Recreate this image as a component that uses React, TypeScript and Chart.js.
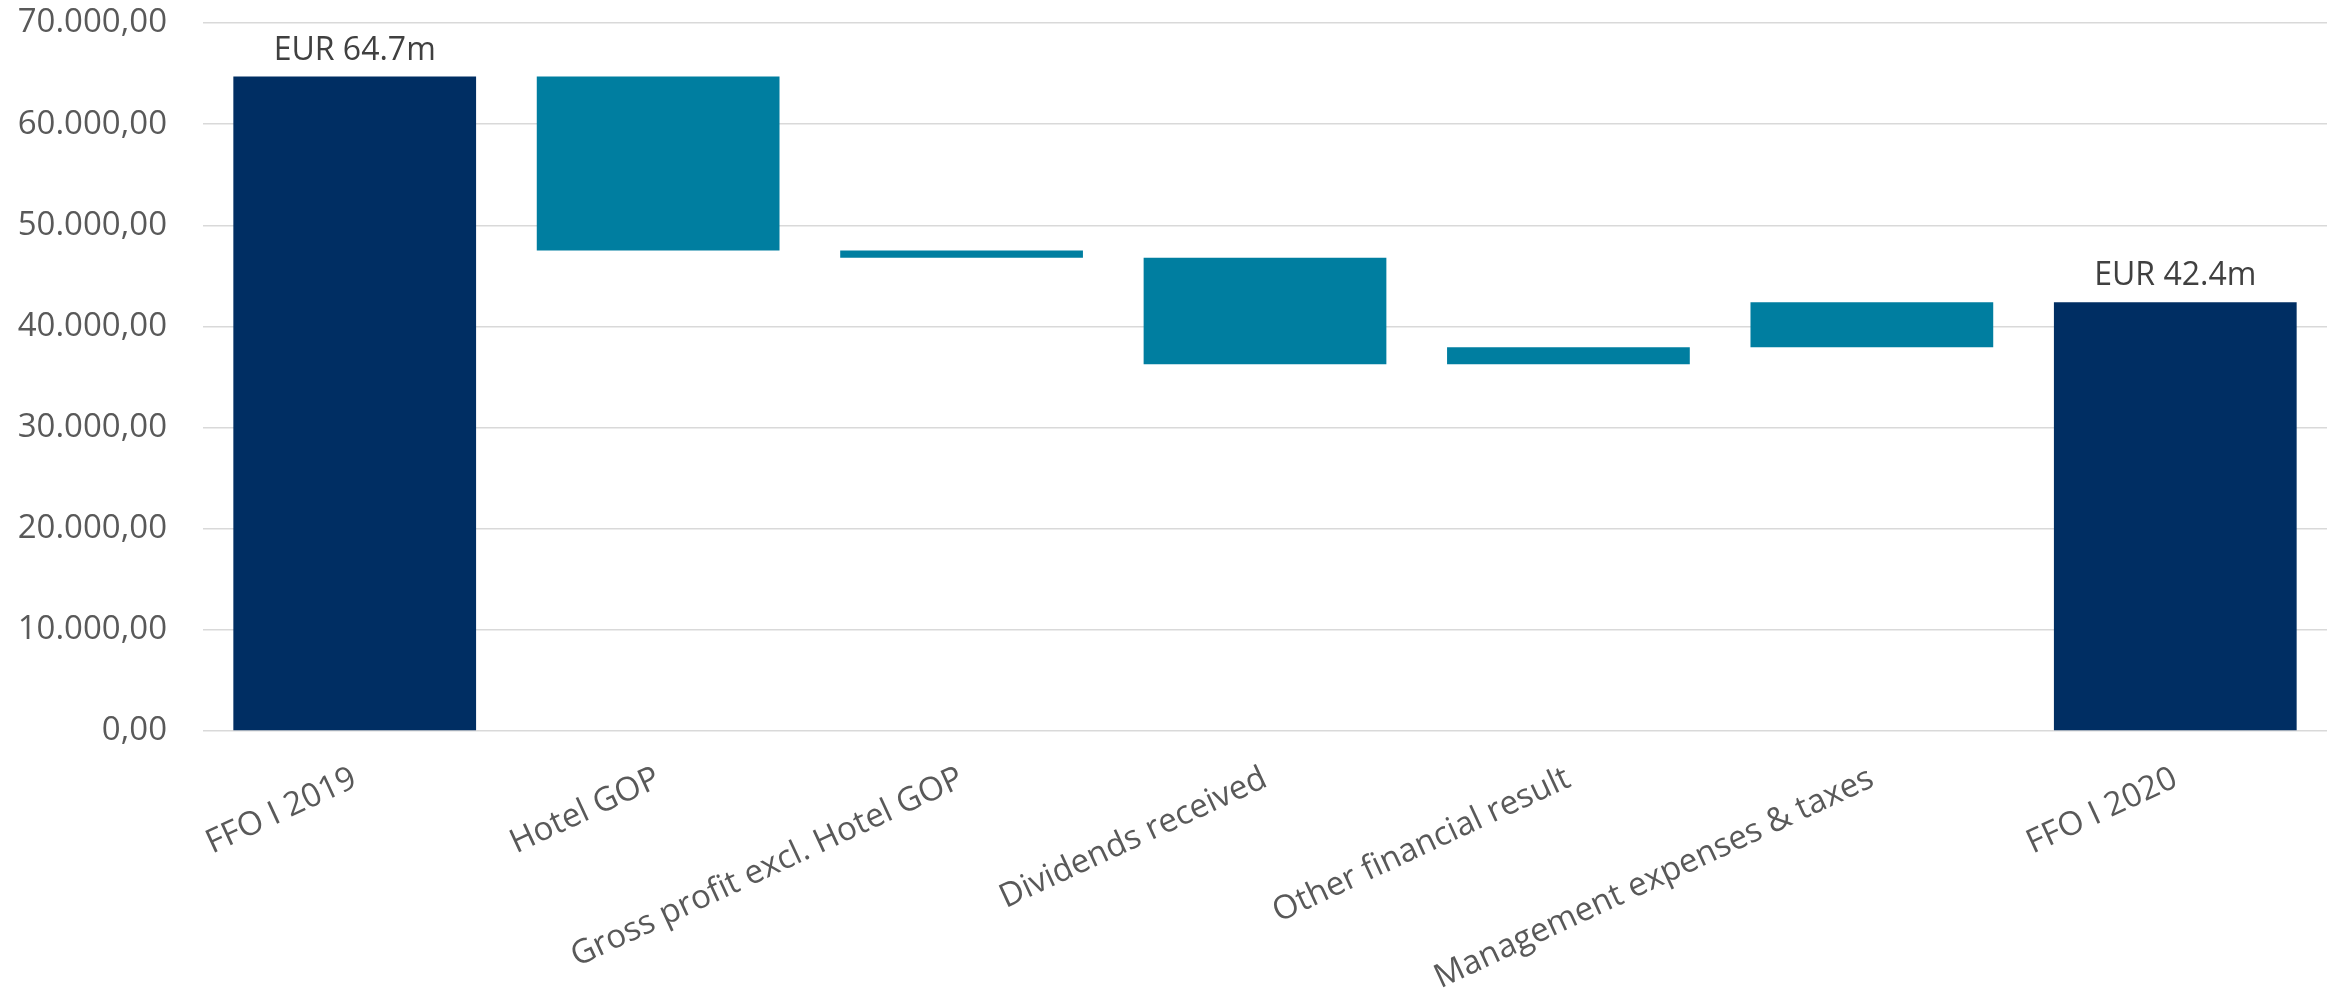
import React, { useEffect, useRef } from "react";
import { Chart, registerables } from "chart.js";

Chart.register(...registerables);

// FFO I bridge, values in EUR thousand
const categories = [
  "FFO I 2019",
  "Hotel GOP",
  "Gross profit excl. Hotel GOP",
  "Dividends received",
  "Other financial result",
  "Management expenses & taxes",
  "FFO I 2020",
];
const startTotal = 64700;
const changes = [-17200, -700, -10550, 1700, 4450];
const endTotal = 42400;

const totalColor = "#002E63";
const stepColor = "#007EA0";
const fontFamily = "'Open Sans', sans-serif";

// 70.000,00 style formatting
function formatDe(v: number): string {
  const neg = v < 0;
  const abs = Math.abs(v);
  const intPart = Math.floor(abs).toString().replace(/\B(?=(\d{3})+(?!\d))/g, ".");
  const frac = Math.round((abs - Math.floor(abs)) * 100)
    .toString()
    .padStart(2, "0");
  return (neg ? "-" : "") + intPart + "," + frac;
}

function buildRanges(): [number, number][] {
  const out: [number, number][] = [[0, startTotal]];
  let level = startTotal;
  for (const c of changes) {
    const next = level + c;
    out.push([Math.min(level, next), Math.max(level, next)]);
    level = next;
  }
  out.push([0, endTotal]);
  return out;
}

const totalLabels = {
  id: "totalLabels",
  afterDatasetsDraw(chart: any) {
    const { ctx } = chart;
    const meta = chart.getDatasetMeta(0);
    const data = chart.data.datasets[0].data as [number, number][];
    const last = data.length - 1;
    [0, last].forEach((i) => {
      const bar = meta.data[i];
      const value = data[i][1];
      ctx.save();
      ctx.font = `32px ${fontFamily}`;
      ctx.fillStyle = "#404040";
      ctx.textAlign = "center";
      ctx.textBaseline = "bottom";
      ctx.fillText(`EUR ${(value / 1000).toFixed(1)}m`, bar.x, bar.y - 10);
      ctx.restore();
    });
  },
};

export default function App() {
  const canvasRef = useRef<HTMLCanvasElement | null>(null);

  useEffect(() => {
    if (!canvasRef.current) return;
    const ranges = buildRanges();
    const colors = ranges.map((_, i) =>
      i === 0 || i === ranges.length - 1 ? totalColor : stepColor
    );
    const chart = new Chart(canvasRef.current, {
      type: "bar",
      data: {
        labels: categories,
        datasets: [
          {
            data: ranges as any,
            backgroundColor: colors,
            borderWidth: 0,
            categoryPercentage: 1,
            barPercentage: 0.8,
          },
        ],
      },
      options: {
        responsive: false,
        animation: false,
        layout: { padding: { left: 0, right: 13, top: 23, bottom: 0 } },
        plugins: {
          legend: { display: false },
          tooltip: { enabled: false },
        },
        scales: {
          x: {
            grid: { display: false },
            border: { display: false },
            ticks: {
              minRotation: 25,
              maxRotation: 25,
              padding: 20,
              color: "#595959",
              font: { family: fontFamily, size: 33 },
            },
            afterFit: (s: any) => {
              s.height = 258;
              s.paddingLeft = 0;
              s.paddingRight = 0;
            },
          },
          y: {
            min: 0,
            max: 70000,
            border: { display: false },
            grid: { color: "#D9D9D9", lineWidth: 1.5, drawTicks: false },
            ticks: {
              stepSize: 10000,
              padding: 36,
              color: "#595959",
              font: { family: fontFamily, size: 33 },
              callback: (v: any) => formatDe(Number(v)),
            },
            afterFit: (s: any) => {
              s.width = 203;
              s.paddingTop = 0;
              s.paddingBottom = 0;
            },
          },
        },
      },
      plugins: [totalLabels],
    });
    return () => chart.destroy();
  }, []);

  return (
    <div style={{ position: "fixed", left: 0, top: 0, width: 2340, height: 989, background: "#fff" }}>
      <canvas ref={canvasRef} width={2340} height={989} style={{ display: "block" }} />
    </div>
  );
}
